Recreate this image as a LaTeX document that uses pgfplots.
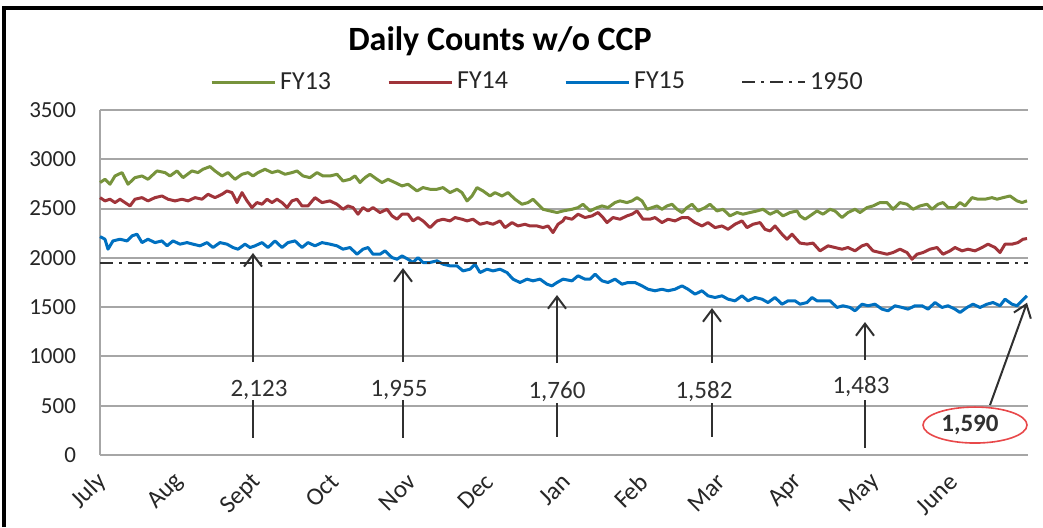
\documentclass[border=0pt]{standalone}
\usepackage{fontspec}
\setmainfont{Carlito}
\usepackage{pgfplots}
\pgfplotsset{compat=1.18}
\usetikzlibrary{arrows.meta}
\definecolor{fyg}{HTML}{77933C}
\definecolor{fyr}{HTML}{A0343A}
\definecolor{fyb}{HTML}{0070C0}
\definecolor{gridc}{HTML}{A6A6A6}
\definecolor{anno}{HTML}{303030}
\definecolor{ellred}{HTML}{E8484A}
\begin{document}
\begin{tikzpicture}[x=1pt,y=1pt]
\begin{axis}[
  at={(50pt,36pt)}, anchor=south west,
  scale only axis, width=464pt, height=172.5pt,
  xmin=100, xmax=1028, ymin=0, ymax=3500,
  axis x line*=bottom, axis y line*=left,
  axis line style={-, draw=gridc, line width=1pt},
  ytick={0,500,...,3500},
  xtick={100,177.33,254.67,332,409.33,486.67,564,641.33,718.67,796,873.33,950.67},
  xticklabels={July,Aug,Sept,Oct,Nov,Dec,Jan,Feb,Mar,Apr,May,June},
  major tick length=0pt,
  ymajorgrids, grid style={draw=gridc, line width=1pt},
  tick label style={font=\fontsize{11.5}{13}\selectfont, text=black!85},
  /pgf/number format/assume math mode=true,
  /pgf/number format/1000 sep={},
  yticklabel style={xshift=-8.5pt},
  xticklabel style={rotate=45, anchor=east, inner sep=0pt, xshift=-7pt, yshift=-9pt, font=\fontsize{12.5}{14}\selectfont},
  clip=false,
  legend style={at={(0.4725,1.081)}, anchor=center, draw=none, fill=none,
    legend columns=4, font=\fontsize{13}{15}\selectfont,
    /tikz/every even column/.append style={column sep=26pt},
    nodes={inner sep=2pt, text=black!85}},
  legend image code/.code={\draw[#1] (0pt,0pt) -- (31.5pt,0pt);},
]
\addplot[fyg, line width=1.5pt, line join=round] coordinates {
(100,2764)(105,2797)(110,2747)(115,2831)(122,2865)(128,2747)(135,2814)(142,2831)(148,2797)(157,2882)(165,2865)(170,2831)(177,2882)(183,2814)(192,2882)(198,2865)(203,2899)(210,2926)(215,2882)(222,2831)(228,2865)(235,2797)(242,2848)(248,2865)(253,2831)(258,2865)(265,2899)(272,2865)(278,2882)(285,2848)(292,2865)(297,2882)(303,2831)(310,2814)(317,2865)(323,2831)
(330,2831)(337,2848)(343,2780)(350,2797)(355,2831)(360,2764)(365,2814)(370,2848)(377,2797)(382,2764)(388,2797)(395,2764)(402,2730)(408,2747)(417,2679)(423,2713)(430,2696)(437,2696)(443,2713)(450,2662)(457,2696)(462,2662)(467,2578)(472,2628)(477,2713)(483,2679)(490,2628)(495,2662)(502,2628)(508,2662)(515,2595)(522,2544)(528,2561)(533,2595)(538,2544)(543,2493)(550,2476)(557,2460)(563,2476)
(572,2493)(578,2510)(583,2544)(590,2476)(597,2510)(602,2527)(608,2510)(615,2561)(620,2578)(627,2561)(632,2578)(637,2611)(642,2578)(647,2493)(652,2510)(657,2527)(662,2493)(667,2527)(672,2544)(677,2493)(682,2460)(687,2510)(692,2544)(698,2476)(705,2510)(710,2544)(717,2476)(723,2493)(730,2426)(737,2460)(743,2443)(750,2460)(757,2476)(763,2493)(770,2443)(777,2476)(783,2426)(790,2460)(797,2476)
(800,2426)(805,2392)(810,2426)(817,2476)(823,2443)(830,2493)(835,2476)(842,2409)(848,2460)(855,2493)(860,2460)(867,2510)(873,2527)(880,2561)(887,2561)(893,2493)(900,2561)(907,2544)(913,2493)(920,2527)(927,2544)(932,2493)(938,2544)(943,2561)(948,2510)(955,2510)(960,2561)(965,2527)(972,2611)(978,2595)(985,2595)(992,2611)(997,2595)(1003,2611)(1010,2628)(1017,2578)(1022,2561)(1027,2578)
};
\addlegendentry{FY13}
\addplot[fyr, line width=1.5pt, line join=round] coordinates {
(100,2611)(105,2578)(110,2595)(115,2561)(120,2595)(125,2561)(130,2527)(135,2595)(142,2611)(148,2578)(155,2611)(162,2628)(168,2595)(175,2578)(182,2595)(188,2578)(195,2611)(202,2595)(208,2645)(215,2611)(222,2645)(227,2679)(232,2662)(237,2561)(242,2662)(247,2578)(252,2510)(257,2561)(262,2544)(267,2595)(272,2561)(277,2595)(282,2561)(287,2510)(292,2578)(297,2595)(302,2527)(308,2527)(315,2611)(322,2561)
(330,2578)(337,2544)(343,2493)(348,2527)(353,2510)(358,2443)(363,2510)(368,2476)(373,2510)(380,2460)(387,2493)(392,2426)(397,2392)(402,2443)(408,2443)(413,2375)(418,2409)(423,2375)(430,2307)(437,2375)(443,2392)(450,2375)(455,2409)(462,2392)(467,2375)(473,2392)(480,2341)(487,2358)(493,2341)(500,2375)(505,2307)(512,2358)(518,2324)(525,2341)(530,2324)(537,2324)(543,2307)(548,2324)(553,2257)(558,2341)(563,2375)
(565,2409)(572,2392)(578,2443)(585,2409)(592,2426)(598,2460)(603,2409)(607,2358)(613,2409)(620,2392)(627,2426)(632,2443)(637,2476)(643,2392)(650,2392)(655,2409)(662,2358)(668,2392)(675,2375)(682,2409)(688,2409)(695,2358)(702,2324)(708,2358)(715,2307)(722,2324)(728,2290)(735,2341)(742,2375)(747,2307)(753,2341)(760,2358)(765,2290)(770,2273)(775,2324)(782,2240)(787,2189)(792,2240)(798,2172)
(800,2150)(807,2140)(813,2150)(820,2071)(828,2122)(835,2105)(842,2088)(848,2105)(855,2071)(862,2122)(867,2139)(873,2071)(880,2054)(887,2037)(893,2054)(900,2088)(907,2054)(912,1986)(917,2037)(923,2054)(930,2088)(937,2105)(943,2037)(950,2071)(955,2105)(962,2071)(968,2088)(975,2071)(982,2105)(988,2139)(995,2105)(1000,2054)(1005,2139)(1012,2139)(1018,2155)(1023,2189)(1027,2196)
};
\addlegendentry{FY14}
\addplot[fyb, line width=1.5pt, line join=round] coordinates {
(100,2216)(105,2189)(108,2088)(113,2172)(120,2189)(127,2172)(132,2223)(137,2240)(142,2155)(148,2189)(155,2155)(162,2172)(167,2122)(173,2172)(180,2139)(187,2155)(193,2139)(200,2122)(207,2155)(213,2105)(220,2155)(227,2139)(233,2105)(238,2088)(245,2139)(250,2105)(255,2122)(262,2155)(268,2105)(275,2172)(282,2105)(288,2155)(295,2172)(302,2105)(308,2155)(315,2122)(322,2155)
(330,2139)(337,2122)(343,2088)(350,2105)(357,2037)(363,2088)(368,2105)(373,2037)(380,2037)(385,2071)(392,2003)(397,1986)(402,2020)(408,1986)(413,1953)(418,2003)(423,1953)(430,1953)(437,1970)(443,1936)(450,1919)(457,1919)(463,1868)(470,1885)(475,1936)(480,1851)(487,1885)(493,1868)(500,1885)(507,1851)(513,1784)(520,1750)(527,1784)(533,1767)(540,1784)(547,1733)(552,1716)(557,1750)(563,1784)
(572,1767)(578,1818)(585,1784)(590,1784)(595,1835)(602,1767)(608,1750)(615,1784)(622,1733)(628,1750)(635,1750)(642,1716)(648,1682)(655,1666)(662,1682)(668,1666)(675,1682)(682,1716)(688,1682)(695,1632)(702,1666)(708,1615)(715,1598)(722,1615)(728,1581)(735,1564)(742,1615)(748,1564)(755,1598)(762,1581)(768,1547)(775,1598)(782,1530)(788,1564)(795,1564)
(800,1530)(807,1547)(812,1598)(817,1564)(823,1564)(830,1564)(837,1497)(843,1514)(850,1497)(855,1463)(862,1530)(868,1514)(875,1530)(882,1480)(888,1463)(895,1514)(902,1497)(908,1480)(915,1514)(922,1514)(928,1480)(935,1547)(942,1497)(948,1514)(955,1480)(960,1446)(967,1497)(973,1530)(980,1497)(987,1530)(993,1547)(1000,1514)(1005,1581)(1012,1530)(1017,1514)(1022,1564)(1027,1615)
};
\addlegendentry{FY15}
\addplot[anno, line width=1pt, dash pattern=on 6.5pt off 3pt on 1.5pt off 3pt] coordinates {(100,1950)(1028,1950)};
\addlegendentry{1950}

% annotations
\tikzset{annoarrow/.style={anno, line width=1pt, -{Straight Barb[length=6pt,width=9pt]}},
         annoline/.style={anno, line width=1pt},
         annotext/.style={font=\fontsize{12.5}{15}\selectfont, text=anno}}
\draw[annoarrow] (axis cs:253,943) -- (axis cs:253,2050);
\draw[annoline] (axis cs:253,558) -- (axis cs:253,172);
\node[annotext] at (axis cs:259,659) {2,123};
\draw[annoarrow] (axis cs:403,943) -- (axis cs:403,1897);
\draw[annoline] (axis cs:403,558) -- (axis cs:403,172);
\node[annotext] at (axis cs:399,659) {1,955};
\draw[annoarrow] (axis cs:557,933) -- (axis cs:557,1623);
\draw[annoline] (axis cs:557,527) -- (axis cs:557,183);
\node[annotext] at (axis cs:557,639) {1,760};
\draw[annoarrow] (axis cs:712,933) -- (axis cs:712,1491);
\draw[annoline] (axis cs:712,527) -- (axis cs:712,183);
\node[annotext] at (axis cs:704,639) {1,582};
\draw[annoarrow] (axis cs:865,963) -- (axis cs:865,1349);
\draw[annoline] (axis cs:865,558) -- (axis cs:865,71);
\node[annotext] at (axis cs:861,690) {1,483};
\draw[annoarrow] (axis cs:990,507) -- (axis cs:1027,1545);
\draw[ellred, line width=0.8pt] (axis cs:975,304) ellipse [x radius=26pt, y radius=9pt];
\node[annotext, font=\bfseries\fontsize{12.5}{15}\selectfont] at (axis cs:970,304) {1,590};
\end{axis}
\node[anchor=base, font=\bfseries\fontsize{17}{20}\selectfont] at (250pt,238.5pt) {Daily Counts w/o CCP};
\draw[black, line width=2pt] (2pt,0pt) -- (2pt,259.5pt) -- (521.5pt,259.5pt);
\pgfresetboundingbox
\path[use as bounding box] (0pt,0pt) rectangle (521.5pt,263.5pt);
\end{tikzpicture}
\end{document}
